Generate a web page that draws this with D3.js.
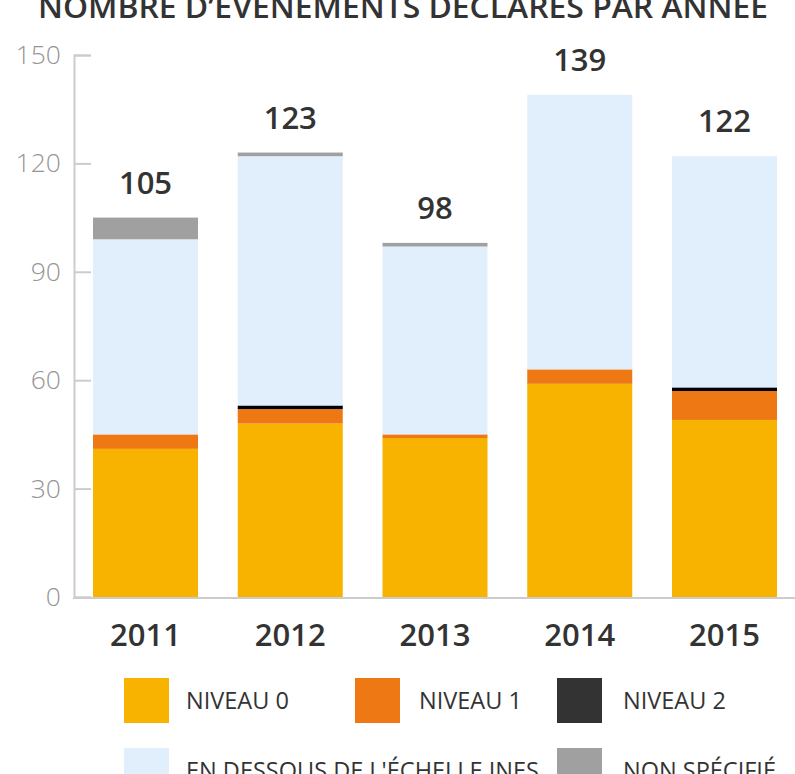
<!DOCTYPE html>
<html><head><meta charset="utf-8">
<script src="https://cdn.jsdelivr.net/npm/d3@7"></script>
<style>body{margin:0;background:#fff;overflow:hidden}svg{display:block}text{font-family:"Open Sans",sans-serif}</style>
</head><body>
<svg id="c" width="795" height="774"></svg>
<script>
const title = "NOMBRE D\u2019ÉVÉNEMENTS DÉCLARÉS PAR ANNÉE";
const years = ["2011","2012","2013","2014","2015"];
const niveau0 = [41,48,44,59,49];
const niveau1 = [4,4,1,4,8];
const niveau2 = [0,1,0,0,1];
const enDessous = [54,69,52,76,64];
const nonSpecifie = [6,1,1,0,0];
const totals = [105,123,98,139,122];
const yTicks = [0,30,60,90,120,150];
const seriesNames = ["NIVEAU 0","NIVEAU 1","NIVEAU 2","EN DESSOUS DE L'ÉCHELLE INES","NON SPÉCIFIÉ"];
const barColors = ["#F8B200","#EE7914","#000000","#E1EFFC","#A0A0A0"];
const legendColors = ["#F8B200","#EE7914","#333333","#E1EFFC","#A0A0A0"];

const keys = ["n0","n1","n2","blue","gray"];
const table = years.map((y,i)=>({year:y,n0:niveau0[i],n1:niveau1[i],n2:niveau2[i],blue:enDessous[i],gray:nonSpecifie[i]}));
const stacked = d3.stack().keys(keys)(table);

const svg = d3.select("#c");
const x = d3.scaleBand().domain(years).range([93,777]).paddingInner(0.2746).paddingOuter(0);
const y = d3.scaleLinear().domain([0,150]).range([597,55]);

// title
svg.append("text").attr("x",403).attr("y",18).attr("text-anchor","middle")
  .attr("font-size",31).attr("font-weight",600).attr("fill","#333")
  .attr("textLength",730).attr("lengthAdjust","spacingAndGlyphs").text(title);

// bars
stacked.forEach((s,si)=>{
  svg.append("g").selectAll("rect").data(s).join("rect")
    .attr("x",d=>x(d.data.year)).attr("width",x.bandwidth())
    .attr("y",d=>y(d[1])).attr("height",d=>y(d[0])-y(d[1]))
    .attr("fill",barColors[si]);
});

// y axis
const ya = svg.append("g").attr("transform","translate(74,0)")
  .call(d3.axisLeft(y).tickValues(yTicks).tickSize(-17).tickPadding(13));
ya.select(".domain").attr("stroke","#cccccc").attr("stroke-width",2);
ya.selectAll(".tick line").attr("stroke","#cccccc").attr("stroke-width",2);
ya.selectAll(".tick text").attr("font-size",26.5).attr("font-weight",300).attr("fill","#969696")
  .attr("font-family","'Open Sans',sans-serif");

// x axis
const xa = svg.append("g").attr("transform","translate(0,598)")
  .call(d3.axisBottom(x).tickSize(0).tickPadding(48));
xa.select(".domain").remove();
svg.append("line").attr("x1",73).attr("x2",795).attr("y1",598).attr("y2",598)
  .attr("stroke","#cccccc").attr("stroke-width",2);
xa.selectAll(".tick text").attr("font-size",31).attr("font-weight",600).attr("fill","#333")
  .attr("font-family","'Open Sans',sans-serif").attr("dy",0);

// totals
svg.append("g").selectAll("text").data(years).join("text")
  .attr("x",d=>x(d)+x.bandwidth()/2).attr("y",(d,i)=>y(totals[i])-24)
  .attr("text-anchor","middle").attr("font-size",31).attr("font-weight",600).attr("fill","#333")
  .text((d,i)=>totals[i]);

// legend
const legendPos = [[124,678,186],[355,678,419],[557,678,623],[124,748,186],[557,748,623]];
seriesNames.forEach((n,i)=>{
  const p = legendPos[i];
  svg.append("rect").attr("x",p[0]).attr("y",p[1]).attr("width",45).attr("height",45).attr("fill",legendColors[i]);
  svg.append("text").attr("x",p[2]).attr("y",p[1]+31).attr("font-size",23.5).attr("fill","#333").text(n);
});
</script>
</body></html>
